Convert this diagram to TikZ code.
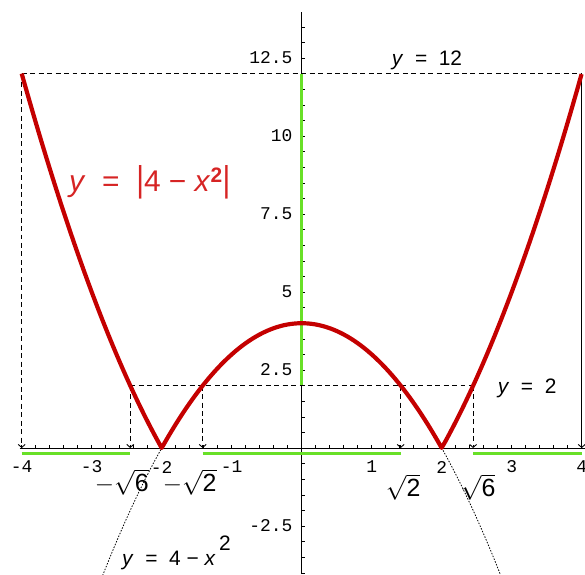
\documentclass[tikz,border=0pt]{standalone}
\usepackage{fontspec}
\usepackage{graphicx}
\setmainfont{Liberation Sans}
\newfontfamily\tickfont{Liberation Mono}
\usetikzlibrary{arrows.meta}
\definecolor{curvered}{RGB}{196,0,0}
\definecolor{labelred}{RGB}{214,36,36}
\definecolor{setgreen}{RGB}{104,224,40}

\begin{document}
\begin{tikzpicture}[
    x=2.4696cm, y=1.1007cm,
    axisline/.style={line width=0.9pt, black},
    tickmark/.style={line width=0.6pt, black},
    ticklab/.style={font=\tickfont\fontsize{18}{18}\selectfont, inner sep=0pt},
    rootlab/.style={font=\fontsize{25}{25}\selectfont, inner sep=0pt},
    eqlab/.style={font=\fontsize{21}{21}\selectfont, inner sep=0pt},
    guide/.style={dash pattern=on 5pt off 3.5pt, line width=0.9pt},
    drop/.style={guide, -{Straight Barb[length=3pt,width=7pt]}},
    solidrop/.style={line width=0.9pt, -{Straight Barb[length=3pt,width=7pt]}},
    setbar/.style={setgreen, line width=3pt},
    graph/.style={curvered, line width=4.2pt, line join=round},
    parab/.style={dash pattern=on 1.5pt off 1.5pt, line width=0.8pt},
  ]
  \useasboundingbox (-4.31,-4.04) rectangle (4.047,14.36);

  % ===== the parabola y = 4 - x^2 (dotted) =====
  \draw[parab, domain=-2.86:2.86, samples=80] plot (\x, {4-\x*\x});

  % ===== axes and ticks =====
  \draw[axisline] (-4.03,0) -- (4.047,0);
  \draw[axisline] (0,-4.04) -- (0,13.97);
  \foreach \i in {-20,...,20}
    \draw[tickmark] (\i/5,0) -- (\i/5,0.11);
  \foreach \j in {-8,...,27}
    \draw[tickmark] (0,\j/2) -- (0.045,\j/2);

  \foreach \n/\t in {-4/-4,-3/-3,-2/-2,-1/-1,1/1,2/2,3/3,4/4}
    \node[ticklab] (xt\n) at (\n,-0.61) {\t};
  \foreach \v/\t in {-2.5/-2.5,2.5/2.5,5/5,7.5/7.5,10/10,12.5/12.5}
    \node[ticklab, anchor=east] (yt\t) at (-0.13,\v) {\t};

  % ===== solution set (green) =====
  \draw[setbar] (-4,-0.18) -- (-2.449,-0.18);
  \draw[setbar] (-1.414,-0.18) -- (1.414,-0.18);
  \draw[setbar] (2.449,-0.18) -- (4,-0.18);
  \draw[setbar] (0,2) -- (0,12);

  % ===== guide lines =====
  \coordinate (topL) at (-4,12);
  \coordinate (topR) at (4,12);
  \coordinate (botL) at (-4,0);
  \coordinate (botR) at (4,0);
  \coordinate (twoL) at (-2.449,2);
  \coordinate (twoR) at (2.449,2);
  \draw[guide] (topL) -- (topR);
  \draw[guide] (twoL) -- (twoR);
  \draw[drop] (topL) -- (botL);
  \draw[solidrop] (topR) -- (botR);
  \foreach \r/\s in {-2.449/m6,-1.414/m2,1.414/p2,2.449/p6} {
    \coordinate (up\s) at (\r,2);
    \coordinate (dn\s) at (\r,0);
    \draw[drop] (up\s) -- (dn\s);
  }

  % ===== y = |4 - x^2| =====
  \draw[graph, domain=-4:4, samples=161] plot (\x, {abs(4-\x*\x)});

  % ===== labels =====
  \node[rootlab] (rm6) at (-2.57,-1.09) {$-\sqrt{\mbox{6}}$};
  \node[rootlab] (rm2) at (-1.60,-1.09) {$-\sqrt{\mbox{2}}$};
  \node[rootlab] (rp2) at (1.45,-1.25) {$\sqrt{\mbox{2}}$};
  \node[rootlab] (rp6) at (2.52,-1.25) {$\sqrt{\mbox{6}}$};

  \node[eqlab] (lab12) at (1.79,12.44) {\textit{y}\ \ =\ \ 12};
  \node[eqlab] (lab2) at (3.22,1.92) {\textit{y}\ \ =\ \ 2};
  \node[eqlab, anchor=base west] (labpar) at (-2.567,-3.75)
    {\textit{y}\ \ =\ \ 4\ −\ \textit{x}\,\raisebox{15pt}{2}};
  \node[font=\fontsize{30}{30}\selectfont, labelred, inner sep=0pt] (lababs) at (-2.17,8.53)
    {\textit{y}\ \ =\ \ \scalebox{1}[1.2]{|}4\ −\ \textit{x}\textsuperscript{\textbf{2}}\scalebox{1}[1.2]{|}};

\end{tikzpicture}
\end{document}
